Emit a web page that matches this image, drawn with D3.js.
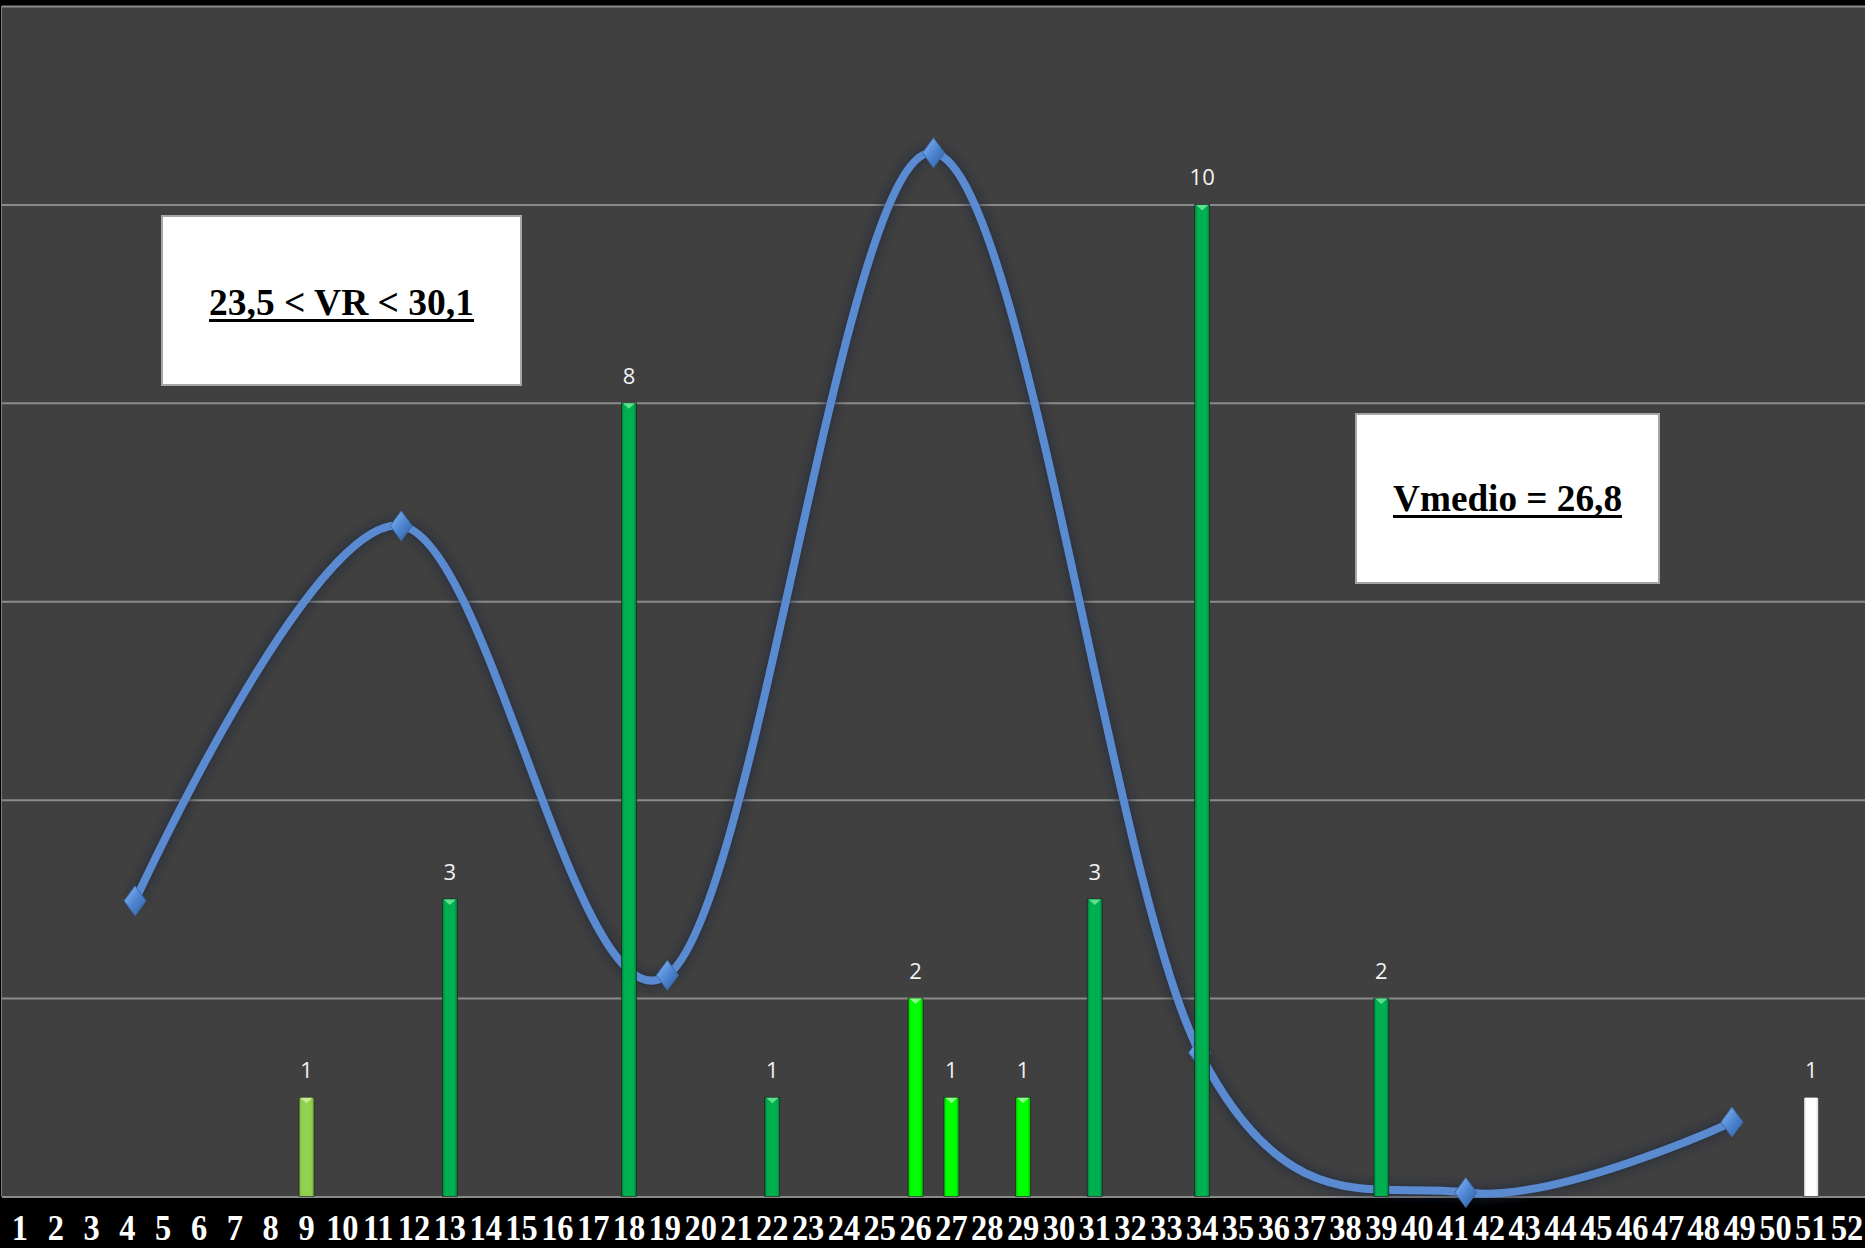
<!DOCTYPE html>
<html><head><meta charset="utf-8">
<script src="https://cdn.jsdelivr.net/npm/d3@7"></script>
<style>html,body{margin:0;padding:0;background:#000;} svg{display:block}</style>
</head><body>
<svg id="c" width="1865" height="1248"></svg>
<script>
// ---- data ----
const categories = d3.range(1, 53).map(String);
const barCategories = ["9","13","18","22","26","27","29","31","34","39","51"];
const barValues = [1, 3, 8, 1, 2, 1, 1, 3, 10, 2, 1];
const barColorKeys = ["light","green","green","green","lime","lime","lime","green","green","green","white"];
const lineCategories = ["p1","p2","p3","p4","p5","p6","p7"];
const lineValues = [2.98, 6.76, 2.23, 10.52, 1.45, 0.04, 0.75];
const yTicks = [0, 2, 4, 6, 8, 10, 12];
const annotationTexts = ["23,5 < VR < 30,1", "Vmedio = 26,8"];

// ---- layout ----
const W = 1865, H = 1248;
const plot = {left: 2, right: 1865, top: 6, bottom: 1196.5};
const palette = {
  light: {base: "#92D050", edge: "#6FA93A", tip: "#C8EC9A"},
  green: {base: "#00B050", edge: "#007A36", tip: "#5FE08F"},
  lime:  {base: "#00FF00", edge: "#00B800", tip: "#8CFF8C"},
  white: {base: "#FFFFFF", edge: "#CFCFCF", tip: "#FFFFFF"}
};

const svg = d3.select("#c");
const defs = svg.append("defs");
Object.entries(palette).forEach(([k, c]) => {
  const g = defs.append("linearGradient").attr("id", "g-" + k)
    .attr("x1", "0").attr("x2", "1").attr("y1", "0").attr("y2", "0");
  g.append("stop").attr("offset", "0").attr("stop-color", c.edge);
  g.append("stop").attr("offset", "0.18").attr("stop-color", c.base);
  g.append("stop").attr("offset", "0.8").attr("stop-color", c.base);
  g.append("stop").attr("offset", "1").attr("stop-color", c.edge);
});
const mg = defs.append("linearGradient").attr("id", "mk")
  .attr("x1", "0").attr("x2", "1").attr("y1", "0").attr("y2", "1");
mg.append("stop").attr("offset", "0").attr("stop-color", "#8DBBF5");
mg.append("stop").attr("offset", "0.5").attr("stop-color", "#4F86D2");
mg.append("stop").attr("offset", "1").attr("stop-color", "#2F5C9E");
const blur = defs.append("filter").attr("id", "glow").attr("x", "-10%").attr("y", "-10%").attr("width", "120%").attr("height", "120%");
blur.append("feGaussianBlur").attr("stdDeviation", "4");

svg.append("rect").attr("width", W).attr("height", H).attr("fill", "#000");
svg.append("rect").attr("x", plot.left).attr("y", plot.top)
  .attr("width", plot.right - plot.left).attr("height", plot.bottom - plot.top)
  .attr("fill", "#404040");
svg.append("line").attr("x1", plot.left - 0.5).attr("x2", plot.left - 0.5)
  .attr("y1", plot.top).attr("y2", plot.bottom).attr("stroke", "#7a7a7a").attr("stroke-width", 1);

const x = d3.scaleBand().domain(categories).range([plot.left, plot.right]);
const x2 = d3.scaleBand().domain(lineCategories).range([plot.left, plot.right]);
const y = d3.scaleLinear().domain([0, 12]).range([plot.bottom, plot.top]);

// gridlines
const grid = svg.append("g").attr("transform", `translate(${plot.left},0)`)
  .call(d3.axisLeft(y).tickValues(yTicks).tickSize(-(plot.right - plot.left)).tickFormat(""));
grid.select(".domain").remove();
grid.selectAll("line").attr("stroke", "#8a8a8a").attr("stroke-width", 2);

// x axis labels
const xa = svg.append("g").attr("transform", `translate(0,${plot.bottom})`)
  .call(d3.axisBottom(x).tickSize(0));
xa.select(".domain").remove();
xa.selectAll("text")
  .attr("y", 0).attr("dy", 0)
  .attr("transform", "translate(0,43.5) scale(0.9,1)")
  .attr("x", 0)
  .attr("font-family", "'Liberation Serif','Times New Roman',serif")
  .attr("font-weight", "bold").attr("font-size", 36).attr("fill", "#fff");

// line series
const lineGen = d3.line()
  .x((d, i) => x2(lineCategories[i]) + x2.bandwidth() / 2)
  .y(d => y(d))
  .curve(d3.curveCatmullRom.alpha(0));
svg.append("path").datum(lineValues).attr("d", lineGen)
  .attr("fill", "none").attr("stroke", "#1d2a3c").attr("stroke-width", 14)
  .attr("stroke-opacity", 0.6).attr("filter", "url(#glow)");
svg.append("path").datum(lineValues).attr("d", lineGen)
  .attr("fill", "none").attr("stroke", "#5A8AD0").attr("stroke-width", 8)
  .attr("stroke-linecap", "round");
svg.append("g").selectAll("path.mk").data(lineValues).join("path")
  .attr("class", "mk")
  .attr("transform", (d, i) => `translate(${x2(lineCategories[i]) + x2.bandwidth() / 2},${y(d)})`)
  .attr("d", "M0,-15 L11,0 L0,15 L-11,0 Z")
  .attr("fill", "url(#mk)").attr("stroke", "#3a67a8").attr("stroke-width", 1);

// bars
const bw = 15;
const bars = svg.append("g").selectAll("g.bar").data(barValues).join("g").attr("class", "bar");
bars.append("rect")
  .attr("x", (d, i) => x(barCategories[i]) + x.bandwidth() / 2 - bw / 2)
  .attr("y", d => y(d))
  .attr("width", bw)
  .attr("height", d => y(0) - y(d))
  .attr("fill", (d, i) => `url(#g-${barColorKeys[i]})`)
  .attr("stroke", "#1c1c1c").attr("stroke-width", 0.6);
bars.append("path")
  .attr("d", (d, i) => {
    const cx = x(barCategories[i]) + x.bandwidth() / 2, ty = y(d);
    return `M${cx - 6},${ty + 0.5} L${cx + 6},${ty + 0.5} L${cx},${ty + 6} Z`;
  })
  .attr("fill", (d, i) => palette[barColorKeys[i]].tip);
bars.append("text")
  .attr("x", (d, i) => x(barCategories[i]) + x.bandwidth() / 2)
  .attr("y", d => y(d) - 19)
  .attr("text-anchor", "middle")
  .attr("font-family", "'Open Sans','Liberation Sans',sans-serif")
  .attr("font-size", 22).attr("fill", "#f2f2f2")
  .text(d => d);

// annotation boxes
const boxes = [
  {x: 162, y: 216, w: 359, h: 169, base: 315, tw: 265},
  {x: 1356, y: 414, w: 303, h: 169, base: 511, tw: 229}
];
boxes.forEach((b, i) => {
  const g = svg.append("g");
  g.append("rect").attr("x", b.x).attr("y", b.y).attr("width", b.w).attr("height", b.h)
    .attr("fill", "#fff").attr("stroke", "#a6a6a6").attr("stroke-width", 2);
  const cx = b.x + b.w / 2;
  g.append("text").attr("x", cx).attr("y", b.base).attr("text-anchor", "middle")
    .attr("font-family", "'Liberation Serif','Times New Roman',serif")
    .attr("font-weight", "bold").attr("font-size", 37).attr("fill", "#000")
    .attr("textLength", b.tw).attr("lengthAdjust", "spacingAndGlyphs")
    .text(annotationTexts[i]);
  g.append("rect").attr("x", cx - b.tw / 2).attr("y", b.base + 4).attr("width", b.tw).attr("height", 3)
    .attr("fill", "#000");
});
</script>
</body></html>
